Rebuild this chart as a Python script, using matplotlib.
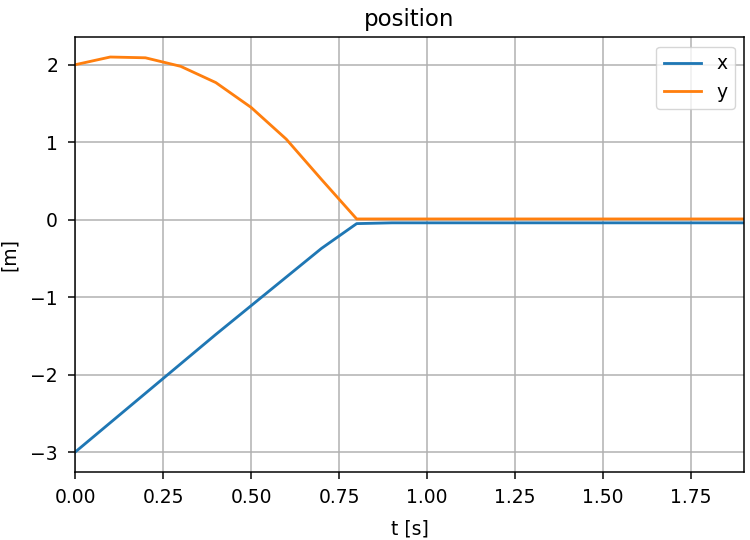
import matplotlib
matplotlib.use("Agg")
import matplotlib.pyplot as plt

t = [0.0, 0.1, 0.2, 0.3, 0.4, 0.5, 0.6, 0.7, 0.8, 0.9, 1.0, 1.1, 1.2, 1.3, 1.4, 1.5, 1.6, 1.7, 1.8, 1.9]
x_pos = [-3.0, -2.62, -2.24, -1.86, -1.48, -1.11, -0.74, -0.37, -0.05, -0.04, -0.04, -0.04, -0.04, -0.04, -0.04, -0.04, -0.04, -0.04, -0.04, -0.04]
y_pos = [2.0, 2.10, 2.09, 1.98, 1.77, 1.45, 1.04, 0.52, 0.01, 0.01, 0.01, 0.01, 0.01, 0.01, 0.01, 0.01, 0.01, 0.01, 0.01, 0.01]

s = 1.35
plt.rcParams.update({
    "font.size": 10 * s,
    "axes.titlesize": 16.5,
    "lines.linewidth": 1.5 * s,
    "axes.linewidth": 0.8 * s,
    "grid.linewidth": 0.8 * s,
    "xtick.major.size": 3.5 * s,
    "ytick.major.size": 3.5 * s,
    "xtick.major.width": 0.8 * s,
    "ytick.major.width": 0.8 * s,
    "xtick.major.pad": 6.5,
    "ytick.major.pad": 7.5,
    "axes.titlepad": 6 * s,
    "legend.fontsize": 10 * s,
})

fig = plt.figure(figsize=(7.5, 5.4), dpi=100)
ax = fig.add_axes([0.1, 0.126, 0.892, 0.805])
ax.plot(t, x_pos, label="x")
ax.plot(t, y_pos, label="y")
ax.set_xlim(0, 1.9)
ax.set_title("position")
ax.set_xlabel("t [s]", labelpad=9)
ax.set_ylabel("[m]", labelpad=8.4)
ax.grid(True)
ax.legend(loc="upper right")
fig.savefig("out.png", dpi=100)
